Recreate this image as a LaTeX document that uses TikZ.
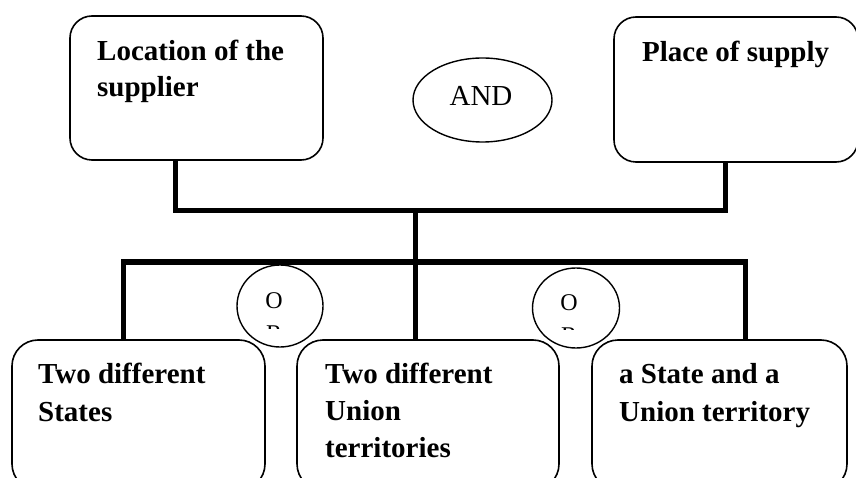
\documentclass[tikz,border=0pt]{standalone}
\usepackage{fontspec}
\setmainfont{Liberation Serif}
\usetikzlibrary{shapes.geometric}
\tikzset{
  box/.style={draw, line width=1.6pt, rounded corners=22pt, inner sep=0pt},
  txt/.style={font=\fontsize{29}{37}\selectfont\bfseries, align=left, inner sep=0pt, anchor=base west},
  conn/.style={line width=5pt, line cap=butt},
  oval/.style={draw, line width=1.4pt, ellipse, inner sep=0pt},
  ortxt/.style={font=\fontsize{24}{33}\selectfont, align=center, inner sep=0pt, anchor=base},
}
\begin{document}
\begin{tikzpicture}[x=1pt,y=-1pt]
\useasboundingbox (0,0) rectangle (856,478);
\clip (0,0) rectangle (856,478);
% top boxes
\node[box, minimum width=253pt, minimum height=144pt] (loc) at (196.5,88) {};
\node[box, minimum width=244pt, minimum height=145pt] (pos) at (736,89.5) {};
\node[txt, font=\fontsize{29}{36}\selectfont\bfseries] (loct) at (97,97) {Location of the\\supplier};
\node[txt] (post) at (642,62) {Place of supply};
\node[oval, minimum width=139pt, minimum height=84pt] (and) at (482.5,100) {};
\node[font=\fontsize{29}{34}\selectfont, inner sep=0pt, anchor=base] (andt) at (481,106) {AND};
% bottom boxes
\node[box, rounded corners=26pt, minimum width=253pt, minimum height=150pt] (b1) at (138.5,415) {};
\node[box, rounded corners=26pt, minimum width=262pt, minimum height=150pt] (b2) at (428,415) {};
\node[box, rounded corners=26pt, minimum width=255pt, minimum height=150pt] (b3) at (719.5,415) {};
\node[txt, font=\fontsize{29}{38}\selectfont\bfseries] (b1t) at (38,421) {Two different\\States};
\node[txt, font=\fontsize{29}{37}\selectfont\bfseries] (b2t) at (325,457) {Two different\\Union\\territories};
\node[txt, font=\fontsize{29}{38}\selectfont\bfseries] (b3t) at (619,421) {a State and a\\Union territory};
% connectors
\coordinate (jl) at (175,211);
\coordinate (jr) at (725,211);
\coordinate (jm) at (415,211);
\coordinate (jm2) at (415,262);
\coordinate (kl) at (123,262);
\coordinate (kr) at (745,262);
\draw[conn] (loc.south -| jl) -- (jl) -- (jr) -- (pos.south -| jr);
\draw[conn] (jm) -- (jm2);
\draw[conn] (b1.north -| kl) -- (kl) -- (kr) -- (b3.north -| kr);
\draw[conn] (jm2) -- (b2.north -| jm2);
% OR circles
\node[oval, fill=white, minimum width=86pt, minimum height=82pt] (or1) at (280,306) {};
\node[oval, fill=white, minimum width=87pt, minimum height=80pt] (or2) at (576,308) {};
\begin{scope}
\clip (240,285) rectangle (320,328);
\node[ortxt] (or1t) at (274,341) {O\\R};
\end{scope}
\begin{scope}
\clip (536,285) rectangle (616,329);
\node[ortxt] (or2t) at (569,343) {O\\R};
\end{scope}
\end{tikzpicture}
\end{document}
